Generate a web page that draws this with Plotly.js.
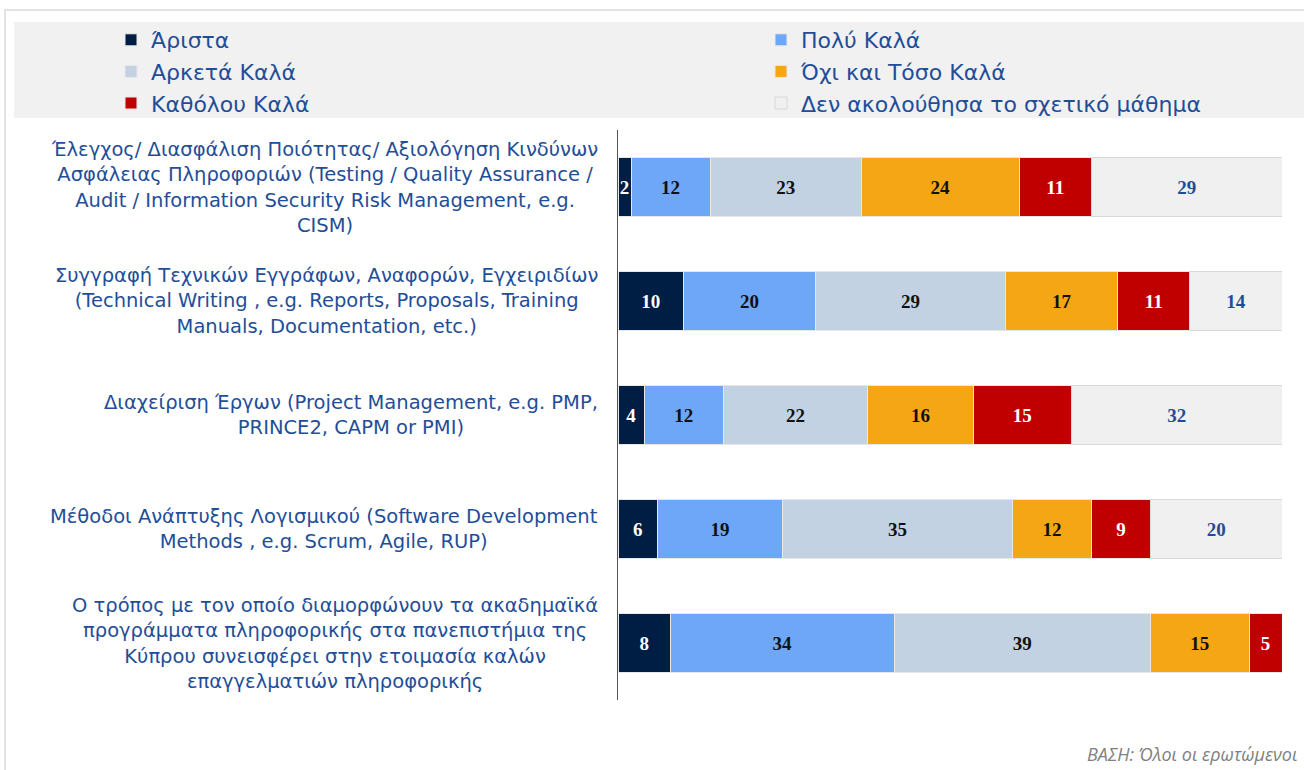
<!DOCTYPE html>
<html>
<head>
<meta charset="utf-8">
<script src="https://cdn.plot.ly/plotly-3.0.1.min.js"></script>
<style>html,body{margin:0;padding:0;background:#fff;}#chart{width:1304px;height:770px;}</style>
</head>
<body>
<div id="chart"></div>
<script>
const categories = [
  "Έλεγχος/ Διασφάλιση Ποιότητας/ Αξιολόγηση Κινδύνων<br>Ασφάλειας Πληροφοριών (Testing / Quality Assurance /<br>Audit / Information Security Risk Management, e.g.<br>CISM)",
  "Συγγραφή Τεχνικών Εγγράφων, Αναφορών, Εγχειριδίων<br>(Technical Writing , e.g. Reports, Proposals, Training<br>Manuals, Documentation, etc.)",
  "Διαχείριση Έργων (Project Management, e.g. PMP,<br>PRINCE2, CAPM or PMI)",
  "Μέθοδοι Ανάπτυξης Λογισμικού (Software Development<br>Methods , e.g. Scrum, Agile, RUP)",
  "Ο τρόπος με τον οποίο διαμορφώνουν τα ακαδημαϊκά<br>προγράμματα πληροφορικής στα πανεπιστήμια της<br>Κύπρου συνεισφέρει στην ετοιμασία καλών<br>επαγγελματιών πληροφορικής"
];
const seriesNames = ["Άριστα", "Πολύ Καλά", "Αρκετά Καλά", "Όχι και Τόσο Καλά", "Καθόλου Καλά", "Δεν ακολούθησα το σχετικό μάθημα"];
const arista = [2, 10, 4, 6, 8];
const polyKala = [12, 20, 12, 19, 34];
const arketaKala = [23, 29, 22, 35, 39];
const oxiTosoKala = [24, 17, 16, 12, 15];
const katholouKala = [11, 11, 15, 9, 5];
const denAkolouthisa = [29, 14, 32, 20, 0];
const footnote = "ΒΑΣΗ: Όλοι οι ερωτώμενοι";

const seriesValues = [arista, polyKala, arketaKala, oxiTosoKala, katholouKala, denAkolouthisa];
const colors = ["#001d43", "#6ea7f8", "#c3d2e3", "#f5a614", "#c00000", "#f0f0f0"];
const textColors = ["#ffffff", "#111111", "#111111", "#111111", "#ffffff", "#1f4e99"];
const lineColors = ["#e8e8e8", "#e8e8e8", "#e8e8e8", "#e8e8e8", "#e8e8e8", "#d8d8d8"];
const legendOf = ["legend", "legend2", "legend", "legend2", "legend", "legend2"];

const traces = seriesValues.map((vals, i) => ({
  type: "bar",
  orientation: "h",
  name: seriesNames[i],
  legend: legendOf[i],
  y: categories,
  x: vals,
  text: vals.map(v => v > 0 ? String(v) : ""),
  textposition: "inside",
  insidetextanchor: "middle",
  textangle: 0,
  constraintext: "none",
  textfont: {family: "Liberation Serif, DejaVu Serif, serif", size: 19, color: textColors[i], weight: "bold"},
  marker: {color: colors[i], line: {color: lineColors[i], width: 1}},
  hoverinfo: "none",
  cliponaxis: false
}));

// pixel -> paper helpers (plot area: x 618..1282, y 130..700)
const L = 618, R = 1282, T = 130, B = 700;
const px = p => (p - L) / (R - L);
const py = p => (B - p) / (B - T);

const labelFont = {family: "DejaVu Sans, Verdana, sans-serif", size: 19.5, color: "#1f4e99"};
const annotations = categories.map(c => ({
  xref: "paper", yref: "y", x: 0, y: c, xanchor: "right", yanchor: "middle",
  xshift: -18, text: c, showarrow: false, align: "center", font: labelFont
}));
annotations.push({
  xref: "paper", yref: "paper", x: px(1300), y: py(754), xanchor: "right", yanchor: "middle",
  text: footnote, showarrow: false,
  font: {family: "Open Sans, sans-serif", size: 18, color: "#808080", style: "italic"}
});

const legendFont = {family: "DejaVu Sans, Verdana, sans-serif", size: 22, color: "#1f4e99"};
const layout = {
  width: 1304, height: 770,
  margin: {l: L, r: 1304 - R, t: T, b: 770 - B},
  paper_bgcolor: "#ffffff", plot_bgcolor: "rgba(0,0,0,0)",
  barmode: "stack", bargap: 0.49,
  showlegend: true,
  legend: {orientation: "v", x: px(111), y: py(19), xanchor: "left", yanchor: "top",
           bgcolor: "rgba(0,0,0,0)", font: legendFont, traceorder: "normal"},
  legend2: {orientation: "v", x: px(761), y: py(19), xanchor: "left", yanchor: "top",
            bgcolor: "rgba(0,0,0,0)", font: legendFont, traceorder: "normal"},
  uniformtext: {mode: "show", minsize: 19},
  xaxis: {range: [0, 101], visible: false, fixedrange: true},
  yaxis: {autorange: "reversed", showticklabels: false, ticks: "", showgrid: false, zeroline: false,
          showline: true, linecolor: "#555555", linewidth: 1, fixedrange: true},
  shapes: [
    {type: "rect", xref: "paper", yref: "paper", x0: px(5), x1: px(1320), y0: py(10), y1: py(790),
     line: {color: "#e3e3e3", width: 2}, fillcolor: "rgba(0,0,0,0)", layer: "below"},
    {type: "rect", xref: "paper", yref: "paper", x0: px(14), x1: px(1320), y0: py(22), y1: py(118),
     line: {width: 0}, fillcolor: "#f1f1f1", layer: "below"}
  ],
  annotations: annotations
};

Plotly.newPlot("chart", traces, layout, {displayModeBar: false, staticPlot: true});
</script>
</body>
</html>
